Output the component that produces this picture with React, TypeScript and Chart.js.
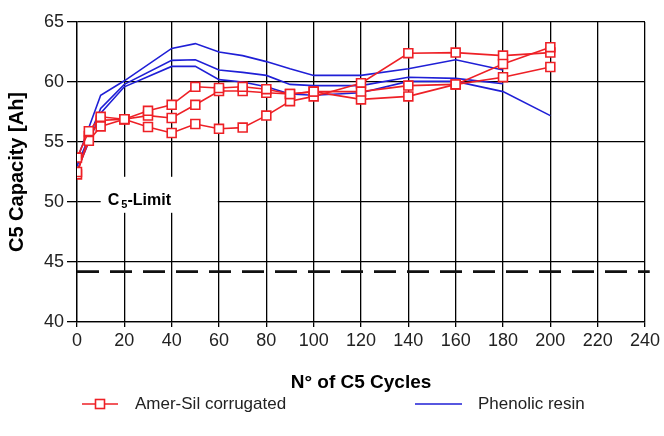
import { useEffect, useRef } from "react";
import { Chart, registerables } from "chart.js";

Chart.register(...registerables);

// ---- data ----
const cyclesAmerSil = [0, 5, 10, 20, 30, 40, 50, 60, 70, 80, 90, 100, 120, 140, 160, 180, 200];
const amerSil1 = [53.7, 55.9, 57.1, 56.9, 57.6, 58.1, 59.6, 59.5, 59.6, 59.4, 59.0, 59.2, 59.2, 59.7, 59.8, 61.5, 62.9];
const amerSil2 = [52.5, 55.1, 56.3, 56.9, 57.2, 57.0, 58.1, 59.25, 59.25, 59.1, 59.0, 59.2, 58.55, 58.8, 59.8, 60.4, 61.25];
const amerSil3 = [52.3, 55.5, 56.8, 56.9, 56.25, 55.75, 56.5, 56.1, 56.2, 57.2, 58.4, 58.8, 59.9, 62.4, 62.45, 62.2, 62.45];

const cyclesPhenolic = [0, 10, 20, 40, 50, 60, 70, 80, 90, 100, 120, 140, 160, 180, 200];
const phenolic1 = [53.5, 58.9, 60.1, 62.8, 63.2, 62.5, 62.2, 61.7, 61.1, 60.55, 60.55, 61.1, 61.85, 61.0];
const phenolic2 = [53.0, 57.8, 59.8, 61.8, 61.85, 61.0, 60.8, 60.55, 59.8, 59.7, 59.7, 60.4, 60.3, 59.85];
const phenolic3 = [52.6, 57.4, 59.6, 61.3, 61.3, 60.2, 60.0, 59.6, 59.0, 58.9, 59.1, 60.05, 60.05, 59.2, 57.2];

const limitValue = 44.2;
const limitCycles = [0, 242];

const xTickRange = [0, 240, 20];
const yTickRange = [40, 65, 5];

const seriesLabels = ["Amer-Sil corrugated", "Phenolic resin"];
const xTitle = "N° of C5 Cycles";
const yTitle = "C5 Capacity [Ah]";
const limitLabel = ["C", "5", "-Limit"];

// ---- styles ----
const RED = "#ee2026";
const BLUE = "#1f1fd6";
const FONT = "'Liberation Sans', Arial, Helvetica, sans-serif";

const pts = (xs: number[], ys: number[]) => ys.map((y, i) => ({ x: xs[i], y }));

const redSet = (data: number[]) => ({
  label: seriesLabels[0],
  data: pts(cyclesAmerSil, data),
  borderColor: RED,
  backgroundColor: "#ffffff",
  borderWidth: 1.6,
  pointStyle: "rect" as const,
  pointRadius: 6.3,
  pointBorderWidth: 1.6,
  pointBackgroundColor: "#ffffff",
  pointBorderColor: RED,
  tension: 0,
});

const blueSet = (data: number[]) => ({
  label: seriesLabels[1],
  data: pts(cyclesPhenolic, data),
  borderColor: BLUE,
  backgroundColor: BLUE,
  borderWidth: 1.6,
  pointRadius: 0,
  tension: 0,
});

const limitPlugin = {
  id: "c5limit",
  beforeDatasetsDraw(chart: any) {
    const { ctx, scales } = chart;
    const x = scales.x, y = scales.y;
    const x0 = x.getPixelForValue(10);
    const x1 = x.getPixelForValue(59.5);
    const y0 = y.getPixelForValue(52.1);
    const y1 = y.getPixelForValue(49.1);
    ctx.save();
    ctx.fillStyle = "#ffffff";
    ctx.fillRect(x0, y0, x1 - x0, y1 - y0);
    ctx.fillStyle = "#000000";
    ctx.textBaseline = "alphabetic";
    const bx = x.getPixelForValue(13);
    const by = y.getPixelForValue(49.75);
    ctx.font = `bold 16px ${FONT}`;
    ctx.fillText(limitLabel[0], bx, by);
    let cx = bx + ctx.measureText(limitLabel[0]).width + 2;
    ctx.font = `bold 11px ${FONT}`;
    ctx.fillText(limitLabel[1], cx, by + 3);
    cx += ctx.measureText(limitLabel[1]).width;
    ctx.font = `bold 16px ${FONT}`;
    ctx.fillText(limitLabel[2], cx, by);
    ctx.restore();
  },
};

const legendPlugin = {
  id: "customLegend",
  afterDraw(chart: any) {
    const { ctx } = chart;
    const ly = 404;
    ctx.save();
    // red entry
    ctx.strokeStyle = RED;
    ctx.lineWidth = 1.6;
    ctx.beginPath();
    ctx.moveTo(82, ly);
    ctx.lineTo(118, ly);
    ctx.stroke();
    ctx.fillStyle = "#ffffff";
    ctx.fillRect(95.5, ly - 4.5, 9, 9);
    ctx.strokeRect(95.5, ly - 4.5, 9, 9);
    // blue entry
    ctx.strokeStyle = BLUE;
    ctx.beginPath();
    ctx.moveTo(415, ly);
    ctx.lineTo(462, ly);
    ctx.stroke();
    ctx.fillStyle = "#222222";
    ctx.font = `17px ${FONT}`;
    ctx.textBaseline = "middle";
    ctx.fillText(seriesLabels[0], 135, ly);
    ctx.fillText(seriesLabels[1], 478, ly);
    ctx.restore();
  },
};

export default function App() {
  const ref = useRef<HTMLCanvasElement | null>(null);
  useEffect(() => {
    document.body.style.margin = "0";
    const canvas = ref.current;
    if (!canvas) return;
    const chart = new Chart(canvas, {
      type: "line",
      data: {
        datasets: [
          redSet(amerSil1),
          redSet(amerSil2),
          redSet(amerSil3),
          blueSet(phenolic1),
          blueSet(phenolic2),
          blueSet(phenolic3),
          {
            label: "limit",
            data: pts(limitCycles, limitCycles.map(() => limitValue)),
            borderColor: "#111111",
            borderWidth: 2.6,
            borderDash: [22, 11],
            pointRadius: 0,
            clip: false as any,
          } as any,
        ],
      },
      options: {
        animation: false,
        responsive: false,
        events: [],
        layout: { padding: { top: 22, right: 19, left: 0, bottom: 0 } },
        plugins: { legend: { display: false }, tooltip: { enabled: false } },
        scales: {
          x: {
            type: "linear",
            min: xTickRange[0],
            max: xTickRange[1],
            afterFit: (s: any) => { s.height = 114; },
            ticks: { stepSize: xTickRange[2], color: "#222", font: { size: 18, family: FONT }, padding: 3, maxRotation: 0 },
            grid: { color: "#000", lineWidth: 1.3, tickLength: 5 },
            border: { color: "#000", width: 1.3 },
            title: { display: true, text: xTitle, color: "#000", font: { size: 19, weight: "bold", family: FONT }, padding: { top: 0, bottom: 42 } },
          },
          y: {
            type: "linear",
            min: yTickRange[0],
            max: yTickRange[1],
            afterFit: (s: any) => { s.width = 77; },
            ticks: { stepSize: yTickRange[2], color: "#222", font: { size: 18, family: FONT }, padding: 3 },
            grid: { color: "#000", lineWidth: 1.3, tickLength: 10 },
            border: { color: "#000", width: 1.3 },
            title: { display: true, text: yTitle, color: "#000", font: { size: 20, weight: "bold", family: FONT }, padding: { top: 5, bottom: 0 } },
          },
        },
      },
      plugins: [limitPlugin, legendPlugin],
    });
    return () => chart.destroy();
  }, []);
  return (
    <div style={{ width: 664, height: 436 }}>
      <canvas ref={ref} width={664} height={436} style={{ display: "block" }} />
    </div>
  );
}
